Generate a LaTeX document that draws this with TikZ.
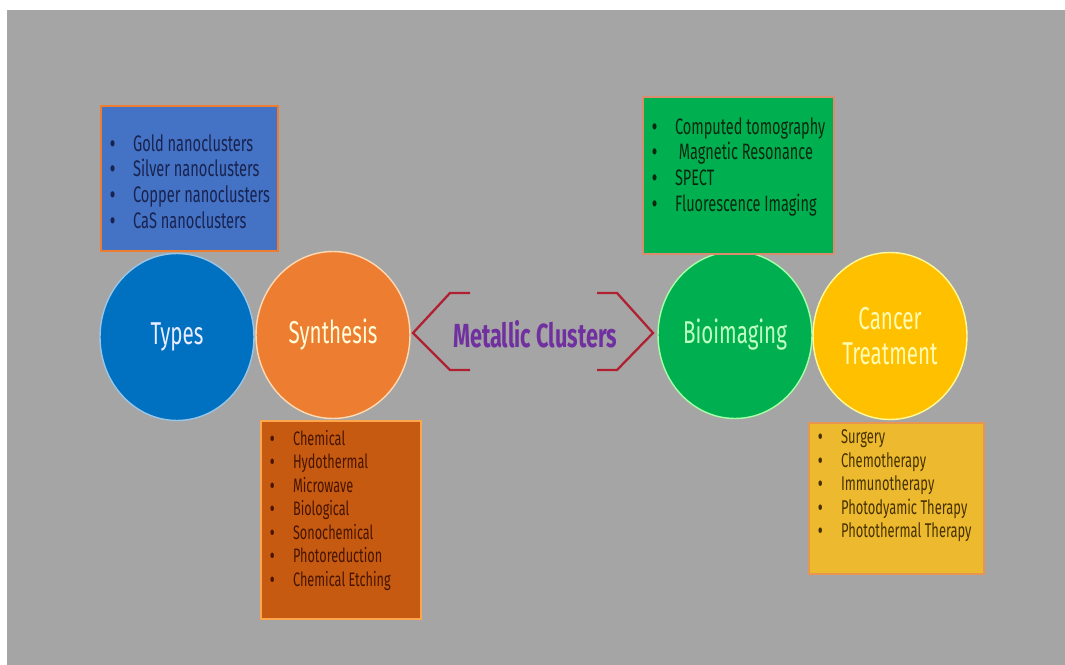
\documentclass[tikz,border=0pt]{standalone}
\usepackage{fontspec}
\setmainfont{Fira Sans}[FakeStretch=0.65]
\usepackage{tikz}
\usetikzlibrary{shapes.geometric}

\definecolor{bggray}{HTML}{A5A5A5}
\definecolor{typesblue}{HTML}{0070C0}
\definecolor{synthorange}{HTML}{ED7D31}
\definecolor{bioGreen}{HTML}{00B050}
\definecolor{cancergold}{HTML}{FFC000}
\definecolor{typesbox}{HTML}{4472C4}
\definecolor{synthbox}{HTML}{C65A10}
\definecolor{cancerbox}{HTML}{EDB92E}
\definecolor{mcpurple}{HTML}{7030A0}
\definecolor{brackred}{HTML}{B02030}

\newcommand{\bitem}[1]{\hspace*{0.18cm}\makebox[0.46cm][l]{\bfseries •}#1\par}

\tikzset{
  topic/.style={ellipse, minimum width=3.08cm, minimum height=3.34cm, inner sep=0pt,
    line width=0.8pt, align=center, font=\fontsize{18}{20}\selectfont},
  listbox/.style={rectangle, anchor=north west, inner sep=0pt, line width=1.2pt},
  bracket/.style={brackred, line width=1.3pt}
}

\begin{document}
\begin{tikzpicture}[x=0.02cm, y=-0.02cm]
    \fill[white] (0,0) rectangle (1065,665);
    \fill[bggray] (7,10) rectangle (1065,665);

    % topic circles
    \node[topic, fill=typesblue, draw=typesblue!40!white, text=blue!8!white] (types) at (177,337) {Types};
    \node[topic, fill=synthorange, draw=orange!30!white, text=yellow!15!white] (synthesis) at (333,335) {Synthesis};
    \node[topic, fill=bioGreen, draw=green!35!white, text=green!25!white] (bioimaging) at (735,335) {Bioimaging};
    \node[topic, fill=cancergold, draw=yellow!40!white, text=yellow!30!white] (cancer) at (890,336) {Cancer\\Treatment};

    % list boxes
    \node[listbox, fill=typesbox, draw=synthorange, text={rgb,255:red,25;green,35;blue,80},
          font=\fontsize{12.8}{14.7}\selectfont] (typeslist) at (100,105)
      {\parbox[t][2.9cm][t]{3.54cm}{\vspace*{16pt}%
        \bitem{Gold nanoclusters}\bitem{Silver nanoclusters}\bitem{Copper nanoclusters}\bitem{CaS nanoclusters}}};
    \node[listbox, fill=synthbox, draw=orange!70!white, text={rgb,255:red,70;green,20;blue,0},
          font=\fontsize{11.1}{13.4}\selectfont] (synthlist) at (260,420)
      {\parbox[t][3.96cm][t]{3.2cm}{\vspace*{5pt}%
        \bitem{Chemical}\bitem{Hydothermal}\bitem{Microwave}\bitem{Biological}\bitem{Sonochemical}\bitem{Photoreduction}\bitem{Chemical Etching}}};
    \node[listbox, fill=bioGreen, draw={rgb,255:red,220;green,140;blue,110}, text={rgb,255:red,10;green,40;blue,15},
          font=\fontsize{12.7}{14.7}\selectfont] (biolist) at (642,96)
      {\parbox[t][3.14cm][t]{3.82cm}{\vspace*{11.6pt}%
        \bitem{Computed tomography}\bitem{\,Magnetic Resonance}\bitem{SPECT}\bitem{Fluorescence Imaging}}};
    \node[listbox, fill=cancerbox, draw={rgb,255:red,230;green,150;blue,80}, text={rgb,255:red,70;green,50;blue,0},
          font=\fontsize{11.3}{13.3}\selectfont] (cancerlist) at (808,422)
      {\parbox[t][3.02cm][t]{3.5cm}{\vspace*{4pt}%
        \bitem{Surgery}\bitem{Chemotherapy}\bitem{Immunotherapy}\bitem{Photodyamic Therapy}\bitem{Photothermal Therapy}}};

    % centre title with brackets
    \node[text=mcpurple, font=\fontsize{19}{22}\selectfont\bfseries] (metallic) at (535,334) {Metallic Clusters};
    \draw[bracket] (470,293) -- (450,293) -- (413,333) -- (450,370) -- (470,370);
    \draw[bracket] (597,293) -- (617,293) -- (653,333) -- (617,370) -- (597,370);
\end{tikzpicture}
\end{document}
